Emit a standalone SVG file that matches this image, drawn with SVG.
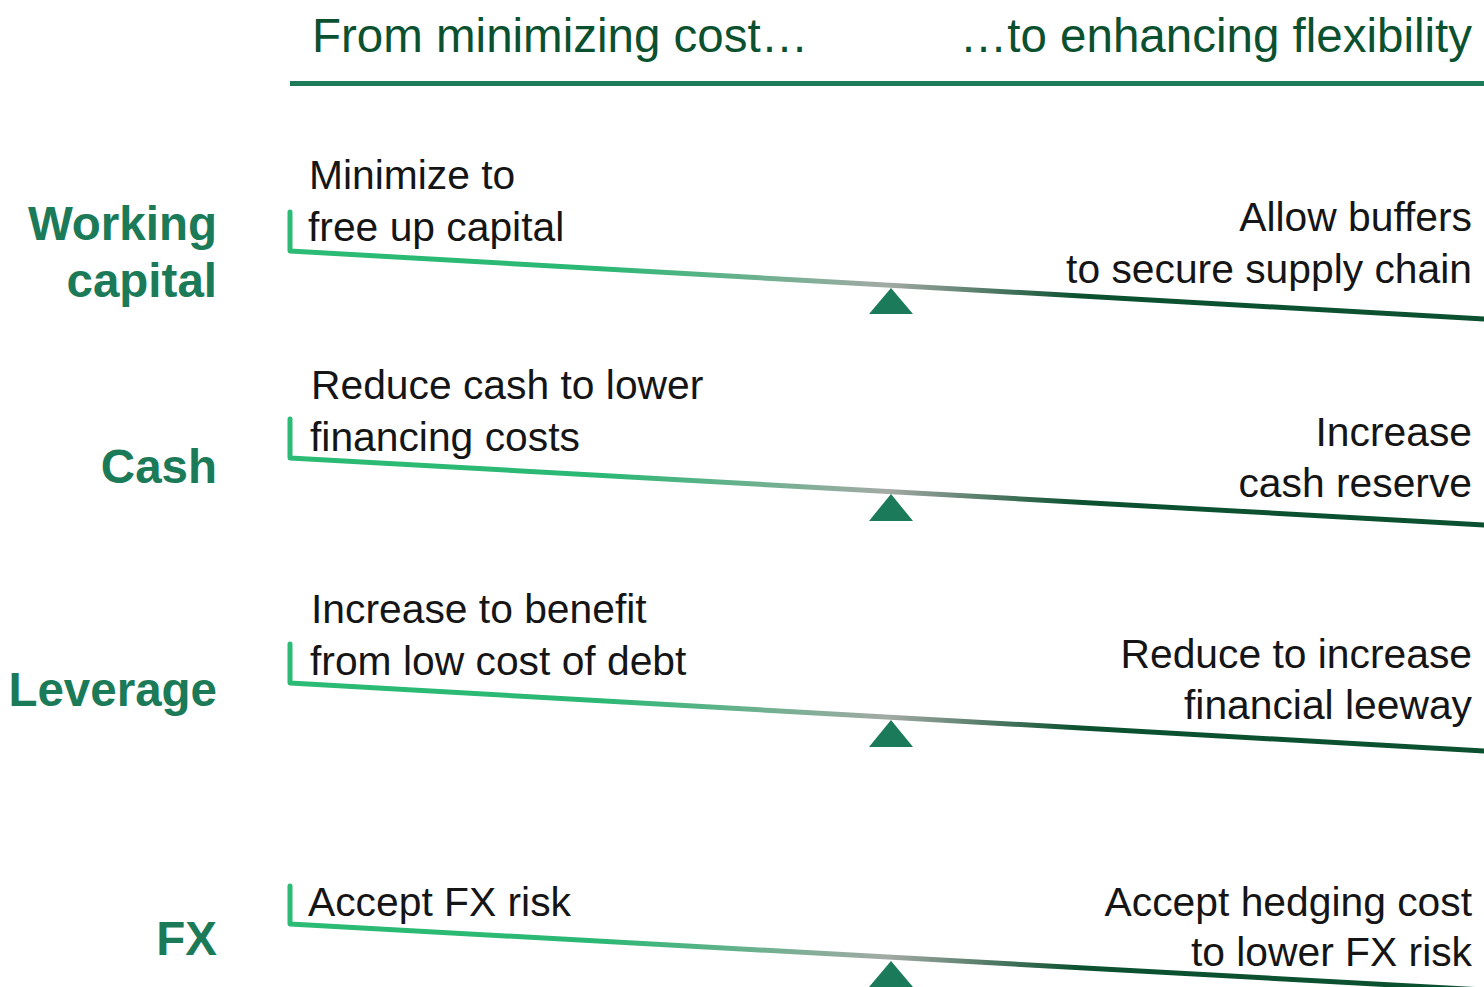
<svg xmlns="http://www.w3.org/2000/svg" width="1484" height="987" viewBox="0 0 1484 987">
<style>
.hdr{font-family:"Liberation Sans",Arial,sans-serif;font-size:47.5px;fill:#0B5130}
.lbl{font-family:"Liberation Sans",Arial,sans-serif;font-size:47.5px;font-weight:bold;fill:#1B7A57;text-anchor:end}
.txt{font-family:"Liberation Sans",Arial,sans-serif;font-size:40.8px;fill:#151515}
.r{text-anchor:end}
.beam{fill:none;stroke:url(#g);stroke-width:5;stroke-linecap:round;stroke-linejoin:round}
.piv{fill:#1B7A5A}
</style>
<defs>
<linearGradient id="g" gradientUnits="userSpaceOnUse" x1="290" y1="0" x2="1484" y2="0">
<stop offset="0" stop-color="#2BBB74"/>
<stop offset="0.26" stop-color="#2BB874"/>
<stop offset="0.5" stop-color="#A3AAA5"/>
<stop offset="0.66" stop-color="#0B5130"/>
<stop offset="1" stop-color="#0B5130"/>
</linearGradient>
</defs>
<rect width="1484" height="987" fill="#fff"/>
<g id="header">
<text class="hdr" x="312" y="52">From minimizing cost…</text>
<text class="hdr r" x="1472" y="52">…to enhancing flexibility</text>
<rect x="290" y="81" width="1194" height="5" fill="#1E7B59"/>
</g>
<g id="connectors">
<polyline class="beam" points="290,212 290,251 1484,319"/>
<polyline class="beam" points="290,419 290,458 1484,525"/>
<polyline class="beam" points="290,644 290,683 1484,751"/>
<polyline class="beam" points="290,886 290,924 1484,990"/>
</g>
<g id="row-working-capital">
<text class="lbl" x="217" y="240">Working</text>
<text class="lbl" x="217" y="297">capital</text>
<text class="txt" x="309" y="189">Minimize to</text>
<text class="txt" x="308" y="241">free up capital</text>
<text class="txt r" x="1472" y="231">Allow buffers</text>
<text class="txt r" x="1472" y="283">to secure supply chain</text>
<polygon class="piv" points="891,288 913,314 869,314"/>
</g>
<g id="row-cash">
<text class="lbl" x="217" y="483">Cash</text>
<text class="txt" x="311" y="399">Reduce cash to lower</text>
<text class="txt" x="310" y="451">financing costs</text>
<text class="txt r" x="1472" y="446">Increase</text>
<text class="txt r" x="1472" y="497">cash reserve</text>
<polygon class="piv" points="891,494 913,521 869,521"/>
</g>
<g id="row-leverage">
<text class="lbl" x="217" y="706">Leverage</text>
<text class="txt" x="311" y="623">Increase to benefit</text>
<text class="txt" x="310" y="675">from low cost of debt</text>
<text class="txt r" x="1472" y="668">Reduce to increase</text>
<text class="txt r" x="1472" y="719">financial leeway</text>
<polygon class="piv" points="891,720 913,747 869,747"/>
</g>
<g id="row-fx">
<text class="lbl" x="217" y="955">FX</text>
<text class="txt" x="308" y="916">Accept FX risk</text>
<text class="txt r" x="1472" y="916">Accept hedging cost</text>
<text class="txt r" x="1472" y="966">to lower FX risk</text>
<polygon class="piv" points="891,961 913,987 869,987"/>
</g>
</svg>
